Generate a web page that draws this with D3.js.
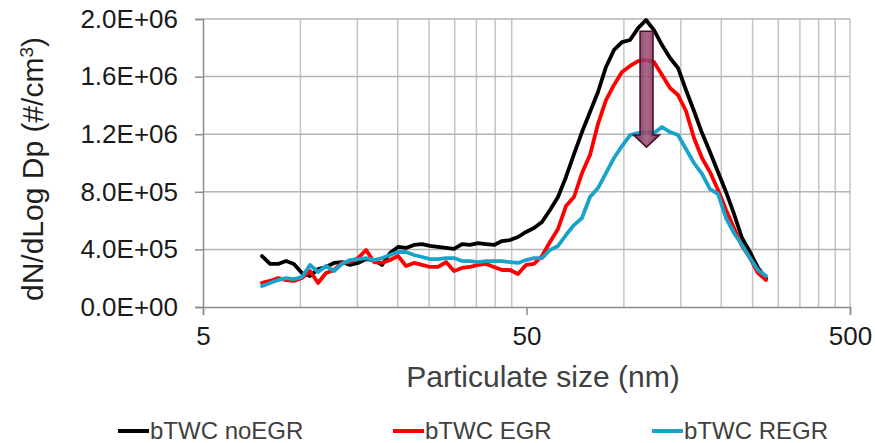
<!DOCTYPE html>
<html>
<head>
<meta charset="utf-8">
<script src="https://cdn.jsdelivr.net/npm/d3@7/dist/d3.min.js"></script>
<style>
  body { margin: 0; background: #fff; }
  text { font-family: "Liberation Sans", Arial, sans-serif; }
</style>
</head>
<body>
<script>
// particle diameters (nm)
const diam = [7.61, 8.06, 8.53, 9.03, 9.55, 10.11, 10.71, 11.34, 12.00, 12.71,
  13.45, 14.24, 15.07, 15.96, 16.89, 17.88, 18.93, 20.04, 21.21, 22.45,
  23.77, 25.16, 26.64, 28.20, 29.85, 31.60, 33.45, 35.41, 37.49, 39.68,
  42.01, 44.47, 47.07, 49.83, 52.74, 55.83, 59.10, 62.57, 66.23, 70.11,
  74.22, 78.57, 83.17, 88.04, 93.21, 98.67, 104.5, 110.6, 117.1, 123.9,
  131.2, 138.9, 147.0, 155.6, 164.7, 174.4, 184.6, 195.4, 206.9, 219.0,
  231.8, 245.4, 259.8, 275.0];

// dN/dLogDp, #/cm3
const noEGR = [354e3, 299e3, 299e3, 319e3, 299e3, 236e3, 215e3, 264e3, 278e3, 306e3,
  312e3, 292e3, 306e3, 333e3, 326e3, 292e3, 375e3, 417e3, 410e3, 431e3,
  437e3, 424e3, 417e3, 410e3, 403e3, 437e3, 431e3, 444e3, 437e3, 431e3,
  458e3, 465e3, 486e3, 521e3, 549e3, 590e3, 674e3, 764e3, 903e3, 1062e3,
  1215e3, 1354e3, 1493e3, 1667e3, 1785e3, 1840e3, 1854e3, 1937e3, 1993e3, 1923e3,
  1819e3, 1729e3, 1660e3, 1507e3, 1361e3, 1208e3, 1076e3, 937e3, 799e3, 646e3,
  479e3, 382e3, 271e3, 201e3];

const EGR = [167e3, 181e3, 201e3, 187e3, 181e3, 201e3, 250e3, 167e3, 236e3, 257e3,
  306e3, 312e3, 340e3, 396e3, 312e3, 306e3, 326e3, 354e3, 285e3, 306e3,
  292e3, 278e3, 278e3, 312e3, 250e3, 271e3, 278e3, 292e3, 299e3, 278e3,
  257e3, 257e3, 229e3, 292e3, 299e3, 354e3, 451e3, 542e3, 701e3, 764e3,
  930e3, 1055e3, 1271e3, 1437e3, 1542e3, 1632e3, 1674e3, 1708e3, 1715e3, 1701e3,
  1611e3, 1521e3, 1472e3, 1361e3, 1174e3, 1035e3, 937e3, 812e3, 674e3, 549e3,
  424e3, 340e3, 236e3, 187e3];

const REGR = [146e3, 167e3, 187e3, 201e3, 194e3, 208e3, 292e3, 243e3, 285e3, 250e3,
  299e3, 326e3, 333e3, 340e3, 326e3, 340e3, 361e3, 382e3, 382e3, 361e3,
  347e3, 333e3, 333e3, 340e3, 340e3, 319e3, 319e3, 312e3, 319e3, 319e3,
  319e3, 312e3, 306e3, 326e3, 340e3, 340e3, 396e3, 424e3, 500e3, 569e3,
  618e3, 764e3, 826e3, 930e3, 1035e3, 1118e3, 1194e3, 1208e3, 1215e3, 1208e3,
  1250e3, 1215e3, 1194e3, 1097e3, 1000e3, 924e3, 819e3, 785e3, 618e3, 514e3,
  431e3, 340e3, 257e3, 215e3];

const seriesNames = ["bTWC noEGR", "bTWC EGR", "bTWC REGR"];
const seriesColors = ["#000000", "#ff0000", "#1aa3c8"];
const seriesData = [noEGR, EGR, REGR];

const yTicks = [0, 4e5, 8e5, 1.2e6, 1.6e6, 2e6];
const xMajor = [5, 50, 500];
const xMinor = [10, 15, 20, 25, 30, 35, 40, 45, 100, 150, 200, 250, 300, 350, 400, 450];

// arrow annotation: from noEGR peak down to REGR peak
const arrowAt = { d: 117.5, top: 1.915e6, headBase: 1.195e6, tip: 1.11e6 };

const W = 875, H = 443;
const x = d3.scaleLog().domain([5, 500]).range([203, 850]);
const y = d3.scaleLinear().domain([0, 2e6]).range([307, 19]);

const svg = d3.select("body").append("svg")
    .attr("width", W).attr("height", H);

function fmtE(v) {
    if (v === 0) return "0.0E+00";
    const e = Math.floor(Math.log10(v) + 1e-9);
    const m = v / Math.pow(10, e);
    return m.toFixed(1) + "E+" + String(e).padStart(2, "0");
}

// gridlines
svg.append("g").selectAll("line")
    .data(xMinor.concat([500]))
    .enter().append("line")
    .attr("x1", d => x(d)).attr("x2", d => x(d))
    .attr("y1", y(0)).attr("y2", y(2e6))
    .attr("stroke", "#c4c4c4").attr("stroke-width", 1.5);

svg.append("g").selectAll("line")
    .data(yTicks.filter(d => d > 0))
    .enter().append("line")
    .attr("x1", x(5)).attr("x2", x(500))
    .attr("y1", d => y(d)).attr("y2", d => y(d))
    .attr("stroke", "#b5b5b5").attr("stroke-width", 1.5);

// axes
const yAxis = svg.append("g").attr("transform", `translate(${x(5)},0)`)
    .call(d3.axisLeft(y).tickValues(yTicks).tickFormat(fmtE).tickSize(8).tickPadding(17));
const xAxis = svg.append("g").attr("transform", `translate(0,${y(0)})`)
    .call(d3.axisBottom(x).tickValues(xMajor).tickFormat(d3.format("d")).tickSize(8).tickPadding(12));

[yAxis, xAxis].forEach(g => {
    g.select(".domain").attr("stroke", "#8c8c8c").attr("stroke-width", 1.5);
    g.selectAll(".tick line").attr("stroke", "#8c8c8c").attr("stroke-width", 1.5);
    g.selectAll(".tick text")
        .attr("fill", "#1a1a1a")
        .style("font-size", "26px")
        .style("font-family", "'Liberation Sans', Arial, sans-serif");
});

// series lines
const line = d3.line()
    .x((d, i) => x(diam[i]))
    .y(d => y(d));

seriesData.forEach((s, k) => {
    svg.append("path")
        .datum(s)
        .attr("fill", "none")
        .attr("stroke", seriesColors[k])
        .attr("stroke-width", 3.8)
        .attr("stroke-linejoin", "round")
        .attr("stroke-linecap", "round")
        .attr("d", line);
});

// arrow
const defs = svg.append("defs");
const grad = defs.append("linearGradient").attr("id", "arrowGrad")
    .attr("x1", "0%").attr("x2", "100%").attr("y1", "0%").attr("y2", "0%");
grad.append("stop").attr("offset", "0%").attr("stop-color", "#5e1839");
grad.append("stop").attr("offset", "50%").attr("stop-color", "#9c4f78");
grad.append("stop").attr("offset", "100%").attr("stop-color", "#5e1839");

const ax = x(arrowAt.d);
const shaftHalf = 6.5, headHalf = 13;
const arrowPath = d3.path();
arrowPath.moveTo(ax - shaftHalf, y(arrowAt.top));
arrowPath.lineTo(ax + shaftHalf, y(arrowAt.top));
arrowPath.lineTo(ax + shaftHalf, y(arrowAt.headBase));
arrowPath.lineTo(ax + headHalf, y(arrowAt.headBase));
arrowPath.lineTo(ax, y(arrowAt.tip));
arrowPath.lineTo(ax - headHalf, y(arrowAt.headBase));
arrowPath.lineTo(ax - shaftHalf, y(arrowAt.headBase));
arrowPath.closePath();
svg.append("path")
    .attr("d", arrowPath.toString())
    .attr("fill", "url(#arrowGrad)")
    .attr("fill-opacity", 0.85)
    .attr("stroke", "#4a0e2c")
    .attr("stroke-width", 1.5);

// axis titles
const yt = svg.append("text")
    .attr("transform", "translate(43,169) rotate(-90)")
    .attr("text-anchor", "middle")
    .attr("fill", "#1f1f1f")
    .style("font-size", "30px");
yt.append("tspan").text("dN/dLog Dp (#/cm");
yt.append("tspan").attr("baseline-shift", "super").style("font-size", "19px").text("3");
yt.append("tspan").text(")");

svg.append("text")
    .attr("x", 543).attr("y", 387)
    .attr("text-anchor", "middle")
    .attr("fill", "#404040")
    .style("font-size", "30px")
    .text("Particulate size (nm)");

// legend
const legendX = [118, 393, 652];
const lg = svg.append("g").selectAll("g")
    .data(seriesNames)
    .enter().append("g")
    .attr("transform", (d, i) => `translate(${legendX[i]},431)`);
lg.append("line")
    .attr("x1", 0).attr("x2", 31).attr("y1", 0).attr("y2", 0)
    .attr("stroke", (d, i) => seriesColors[i])
    .attr("stroke-width", 4);
lg.append("text")
    .attr("x", 32).attr("y", 8)
    .attr("fill", "#404040")
    .style("font-size", "24px")
    .text(d => d);
</script>
</body>
</html>
